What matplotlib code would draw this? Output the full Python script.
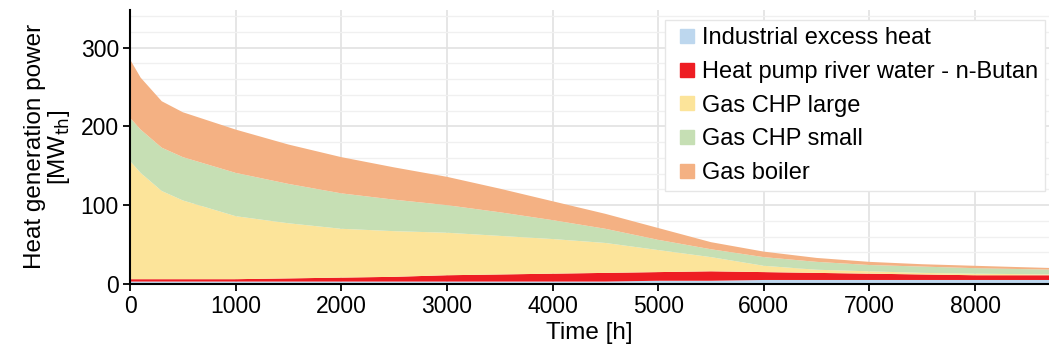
import matplotlib
matplotlib.use("Agg")
import matplotlib.pyplot as plt
from matplotlib.lines import Line2D
from matplotlib.ticker import MultipleLocator

plt.rcParams['font.family'] = ['Liberation Sans', 'DejaVu Sans']

# sorted hours of the year (load duration), values in MW_th
hours = [0, 100, 300, 500, 1000, 1500, 2000, 2500, 3000, 3500, 4000,
         4500, 5000, 5500, 6000, 6500, 7000, 7500, 8000, 8760]
excess_heat = [3, 3, 3, 3, 3, 3, 3, 3, 3, 3, 3, 3, 4, 4, 5, 5, 5, 5, 5, 5]
heat_pump = [3, 3, 3, 3, 3, 4, 5, 6, 8, 9, 10, 11, 11, 12, 10, 9, 8, 7, 6, 6]
chp_large = [150, 135, 112, 100, 80, 70, 62, 58, 54, 49, 44, 38, 28, 18, 8, 4, 3, 2, 2, 1]
chp_small = [55, 55, 55, 55, 55, 50, 45, 40, 35, 30, 24, 18, 13, 10, 11, 10, 8, 8, 7, 6]
gas_boiler = [74, 66, 59, 57, 55, 50, 46, 41, 36, 30, 24, 19, 15, 9, 7, 5, 4, 3, 3, 2]

labels = ["Industrial excess heat", "Heat pump river water - n-Butan",
          "Gas CHP large", "Gas CHP small", "Gas boiler"]
colors = ["#bdd7ee", "#ee1d23", "#fce49a", "#c6dfb4", "#f4b183"]

fig = plt.figure(figsize=(10.49, 3.54), dpi=100)
ax = fig.add_axes([0.124, 0.198, 0.876, 0.774])

ax.stackplot(hours, excess_heat, heat_pump, chp_large, chp_small, gas_boiler,
             colors=colors, linewidth=0, zorder=2)

ax.set_xlim(0, 8700)
ax.set_ylim(0, 348)
ax.xaxis.set_major_locator(MultipleLocator(1000))
ax.yaxis.set_major_locator(MultipleLocator(100))
ax.yaxis.set_minor_locator(MultipleLocator(20))
ax.grid(True, which='major', color='#e2e2e2', lw=1.2, zorder=0)
ax.grid(True, which='minor', axis='y', color='#f0f0f0', lw=1.0, zorder=0)
ax.set_axisbelow(True)

for s in ['top', 'right']:
    ax.spines[s].set_visible(False)
for s in ['left', 'bottom']:
    ax.spines[s].set_linewidth(1.5)
    ax.spines[s].set_zorder(3)
ax.tick_params(axis='both', which='major', direction='out', length=5, width=1.3,
               labelsize=16.5, pad=3)
ax.tick_params(axis='y', which='minor', length=0)

ax.set_xlabel("Time [h]", fontsize=17.5, labelpad=3)
ax.set_ylabel("Heat generation power\n[MW$_{\\mathrm{th}}$]", fontsize=17.5,
              labelpad=6, linespacing=1.0)

handles = [Line2D([], [], marker='s', ls='', markersize=10, color=c) for c in colors]
leg = ax.legend(handles, labels, loc='upper right', bbox_to_anchor=(0.9985, 0.972),
                fontsize=17, frameon=True, fancybox=False, framealpha=1,
                edgecolor='#e6e6e6', handletextpad=0.05, labelspacing=0.5,
                borderpad=0.3, handlelength=1.2, borderaxespad=0.1)
leg.get_frame().set_linewidth(1.0)
leg.set_zorder(5)

fig.savefig("out.png", dpi=100)
